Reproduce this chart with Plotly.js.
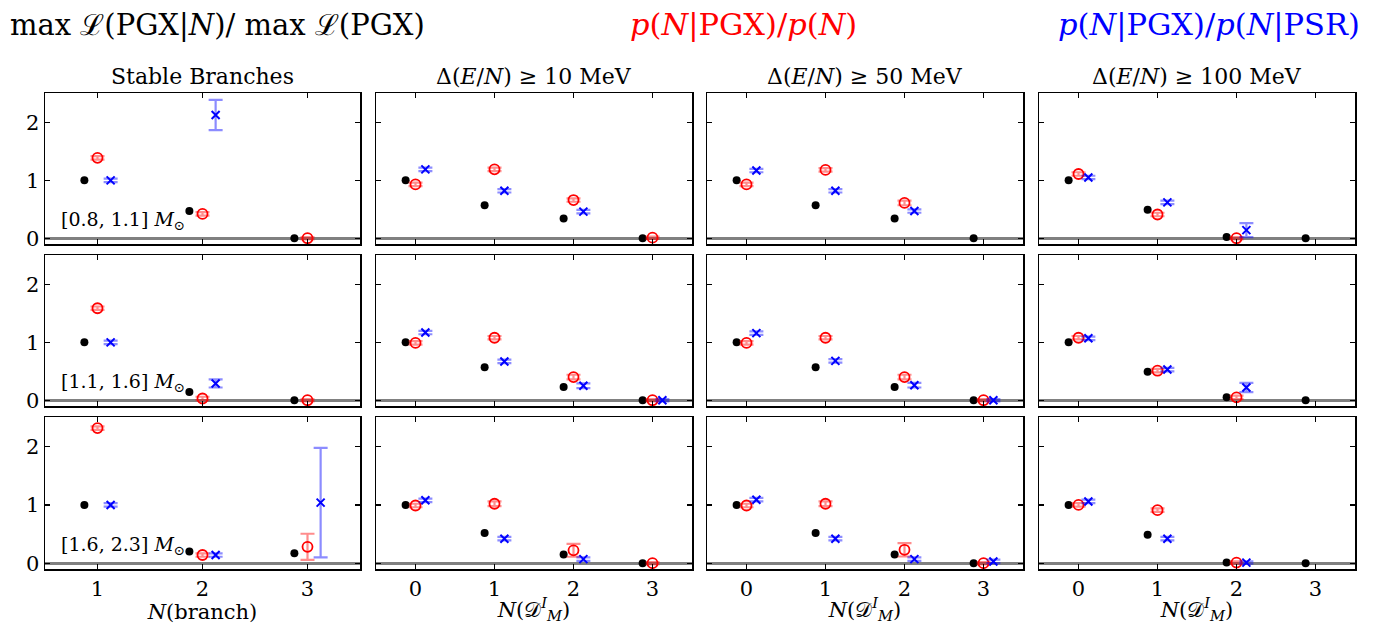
<!DOCTYPE html>
<html>
<head>
<meta charset="utf-8">
<script src="https://cdn.plot.ly/plotly-3.0.1.min.js"></script>
<style>html,body{margin:0;padding:0;background:#fff}#chart{width:1375px;height:624px}</style>
</head>
<body>
<div id="chart"></div>
<script>
// ---------- DATA ----------
const nBranch = [1, 2, 3];
const nDM = [0, 1, 2, 3];
const columnTitles = ["Stable Branches", "Δ(<i>E</i>/<i>N</i>) ≥ 10 MeV", "Δ(<i>E</i>/<i>N</i>) ≥ 50 MeV", "Δ(<i>E</i>/<i>N</i>) ≥ 100 MeV"];
const massBins = ["[0.8, 1.1]", "[1.1, 1.6]", "[1.6, 2.3]"];
const yTicks = [0, 1, 2];

// max L(PGX|N)/max L(PGX)  (black dots), one list per column
const maxLike_low  = [[1.00, 0.47, 0.00], [1.00, 0.57, 0.34, 0.00], [1.00, 0.57, 0.34, 0.00], [1.00, 0.49, 0.02, 0.00]];
const maxLike_mid  = [[1.00, 0.14, 0.00], [1.00, 0.57, 0.23, 0.00], [1.00, 0.57, 0.23, 0.00], [1.00, 0.49, 0.05, 0.00]];
const maxLike_high = [[1.00, 0.20, 0.17], [1.00, 0.52, 0.15, 0.00], [1.00, 0.52, 0.15, 0.00], [1.00, 0.49, 0.01, 0.00]];

// p(N|PGX)/p(N)  (red circles) and its error
const pPrior_low     = [[1.39, 0.42, 0.00], [0.93, 1.19, 0.66, 0.01], [0.93, 1.18, 0.61, null], [1.11, 0.41, 0.00, null]];
const pPriorErr_low  = [[0.03, 0.03, 0.02], [0.03, 0.03, 0.03, 0.02], [0.03, 0.03, 0.04, null], [0.03, 0.03, 0.02, null]];
const pPrior_mid     = [[1.59, 0.03, 0.00], [0.99, 1.08, 0.40, 0.00], [0.99, 1.08, 0.40, 0.00], [1.08, 0.51, 0.05, null]];
const pPriorErr_mid  = [[0.03, 0.03, 0.02], [0.03, 0.03, 0.04, 0.02], [0.03, 0.03, 0.04, 0.02], [0.03, 0.03, 0.03, null]];
const pPrior_high    = [[2.32, 0.14, 0.28], [0.99, 1.02, 0.22, 0.00], [0.99, 1.02, 0.23, 0.00], [1.00, 0.91, 0.01, null]];
const pPriorErr_high = [[0.03, 0.03, 0.225], [0.03, 0.04, 0.11, 0.02], [0.03, 0.04, 0.115, 0.02], [0.03, 0.03, 0.02, null]];

// p(N|PGX)/p(N|PSR)  (blue crosses) and its error
const pPsr_low     = [[1.00, 2.13, null], [1.19, 0.82, 0.46, null], [1.17, 0.82, 0.47, null], [1.05, 0.62, 0.14, null]];
const pPsrErr_low  = [[0.03, 0.26, null], [0.03, 0.03, 0.03, null], [0.03, 0.03, 0.03, null], [0.03, 0.03, 0.12, null]];
const pPsr_mid     = [[1.00, 0.29, null], [1.17, 0.67, 0.25, 0.00], [1.16, 0.68, 0.26, 0.00], [1.07, 0.53, 0.22, null]];
const pPsrErr_mid  = [[0.03, 0.07, null], [0.03, 0.03, 0.04, 0.02], [0.03, 0.03, 0.04, 0.02], [0.03, 0.03, 0.08, null]];
const pPsr_high    = [[1.00, 0.14, 1.04], [1.08, 0.42, 0.07, null], [1.09, 0.42, 0.07, 0.03], [1.06, 0.42, 0.01, null]];
const pPsrErr_high = [[0.03, 0.03, 0.94], [0.03, 0.03, 0.03, null], [0.03, 0.03, 0.03, 0.03], [0.03, 0.03, 0.02, null]];

// ---------- LAYOUT ----------
const W = 1375, H = 624;
const colPx = [[45, 360], [376, 692], [707, 1023], [1039, 1355]];
const rowPx = [[93, 244], [255, 406], [417, 569]];
const FONT = "DejaVu Serif, Liberation Serif, serif";

const rowsMax = [maxLike_low, maxLike_mid, maxLike_high];
const rowsPri = [pPrior_low, pPrior_mid, pPrior_high];
const rowsPriE = [pPriorErr_low, pPriorErr_mid, pPriorErr_high];
const rowsPsr = [pPsr_low, pPsr_mid, pPsr_high];
const rowsPsrE = [pPsrErr_low, pPsrErr_mid, pPsrErr_high];

const traces = [];
const layout = {
  width: W, height: H,
  margin: {l: 0, r: 0, t: 0, b: 0},
  paper_bgcolor: "#fff", plot_bgcolor: "#fff",
  showlegend: false,
  font: {family: FONT, color: "#000", size: 20},
  annotations: []
};

const off = 0.125;
for (let r = 0; r < 3; r++) {
  for (let c = 0; c < 4; c++) {
    const idx = r * 4 + c + 1;
    const xs = idx === 1 ? "" : String(idx);
    const xa = "x" + xs, ya = "y" + xs;
    const cats = c === 0 ? nBranch : nDM;

    const xaxis = {
      domain: [colPx[c][0] / W, colPx[c][1] / W],
      anchor: ya,
      range: c === 0 ? [0.5, 3.5] : [-0.5, 3.5],
      tickvals: cats,
      ticktext: cats.map(String),
      showticklabels: r === 2,
      ticks: "inside", ticklen: 5, tickwidth: 1.3, tickcolor: "#000",
      mirror: "allticks", showline: true, linecolor: "#000", linewidth: 1.5,
      showgrid: false, zeroline: false,
      tickfont: {family: FONT, size: 21}
    };
    if (r === 2) {
      xaxis.title = {
        text: c === 0 ? "<i>N</i>(branch)" : "<i>N</i>(𝒟<sup><i>I</i></sup><sub><i>M</i></sub>)",
        font: {family: FONT, size: 21}, standoff: 1
      };
    }
    layout["xaxis" + xs] = xaxis;
    layout["yaxis" + xs] = {
      domain: [1 - rowPx[r][1] / H, 1 - rowPx[r][0] / H],
      anchor: xa,
      range: [-0.1, 2.51],
      tickvals: yTicks,
      ticktext: yTicks.map(String),
      showticklabels: c === 0,
      ticks: "inside", ticklen: 5, tickwidth: 1.3, tickcolor: "#000",
      mirror: "allticks", showline: true, linecolor: "#000", linewidth: 1.5,
      showgrid: false,
      zeroline: true, zerolinecolor: "rgb(128,128,128)", zerolinewidth: 3,
      tickfont: {family: FONT, size: 21}
    };

    // black: max likelihood ratio
    traces.push({
      type: "scatter", mode: "markers", xaxis: xa, yaxis: ya,
      x: cats.map(v => v - off), y: rowsMax[r][c],
      marker: {color: "#000", size: 8, symbol: "circle"},
      hoverinfo: "skip"
    });
    // red: p(N|PGX)/p(N)
    traces.push({
      type: "scatter", mode: "markers", xaxis: xa, yaxis: ya,
      x: cats.slice(), y: rowsPri[r][c],
      error_y: {type: "data", array: rowsPriE[r][c], visible: true,
                color: "rgba(255,0,0,0.45)", thickness: 2.2, width: 7},
      marker: {color: "#ff0000", size: 10, symbol: "circle-open",
               line: {color: "#ff0000", width: 1.8}},
      hoverinfo: "skip"
    });
    // blue: p(N|PGX)/p(N|PSR)
    traces.push({
      type: "scatter", mode: "markers", xaxis: xa, yaxis: ya,
      x: cats.map(v => v + off), y: rowsPsr[r][c],
      error_y: {type: "data", array: rowsPsrE[r][c], visible: true,
                color: "rgba(0,0,255,0.45)", thickness: 2.2, width: 7},
      marker: {color: "#0000ff", size: 8, symbol: "x-thin-open",
               line: {color: "#0000ff", width: 2}},
      hoverinfo: "skip"
    });

    if (r === 0) {
      layout.annotations.push({
        xref: "paper", yref: "paper",
        x: (colPx[c][0] + colPx[c][1]) / 2 / W, y: 1 - 76 / H,
        xanchor: "center", yanchor: "middle", showarrow: false,
        text: columnTitles[c], font: {family: FONT, size: 22, color: "#000"}
      });
    }
    if (c === 0) {
      layout.annotations.push({
        xref: xa + " domain", yref: ya + " domain",
        x: 0.045, y: 0.06, xanchor: "left", yanchor: "bottom", showarrow: false,
        text: massBins[r] + " <i>M</i><sub>⊙</sub>",
        font: {family: FONT, size: 19, color: "#000"}
      });
    }
  }
}

// headline
layout.annotations.push({
  xref: "paper", yref: "paper", x: 8 / W, y: 1 - 25 / H,
  xanchor: "left", yanchor: "middle", showarrow: false,
  text: "max ℒ(PGX|<i>N</i>)/ max ℒ(PGX)",
  font: {family: FONT, size: 29, color: "#000"}
});
layout.annotations.push({
  xref: "paper", yref: "paper", x: 743 / W, y: 1 - 25 / H,
  xanchor: "center", yanchor: "middle", showarrow: false,
  text: "<i>p</i>(<i>N</i>|PGX)/<i>p</i>(<i>N</i>)",
  font: {family: FONT, size: 30.5, color: "#ff0000"}
});
layout.annotations.push({
  xref: "paper", yref: "paper", x: 1362 / W, y: 1 - 25 / H,
  xanchor: "right", yanchor: "middle", showarrow: false,
  text: "<i>p</i>(<i>N</i>|PGX)/<i>p</i>(<i>N</i>|PSR)",
  font: {family: FONT, size: 30.5, color: "#0000ff"}
});

Plotly.newPlot("chart", traces, layout, {displayModeBar: false, staticPlot: true});
</script>
</body>
</html>
